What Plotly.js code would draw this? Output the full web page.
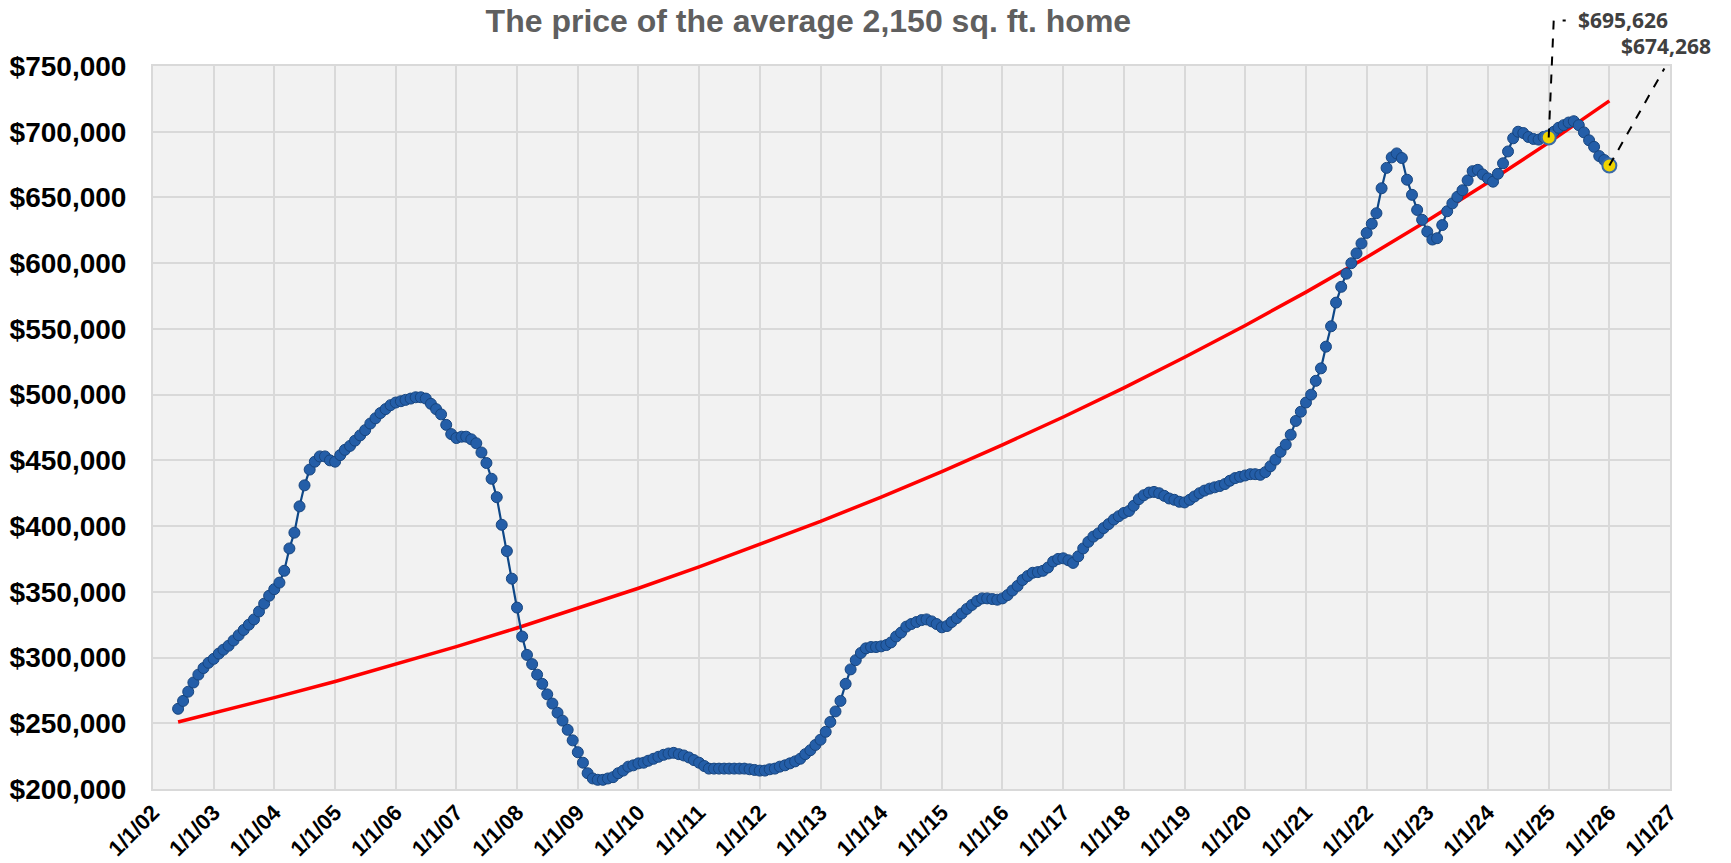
<!DOCTYPE html>
<html>
<head>
<meta charset="utf-8">
<script src="https://cdn.plot.ly/plotly-3.0.1.min.js"></script>
<style>
  html, body { margin: 0; padding: 0; background: #ffffff; }
  #chart { width: 1731px; height: 863px; }
</style>
</head>
<body>
<div id="chart"></div>
<script>
// ---------------- DATA ----------------
const chartTitle = 'The price of the average 2,150 sq. ft. home';

// Monthly price of the average 2,150 sq. ft. home (first month: June 2002)
const seriesStartYear = 2002;
const seriesStartMonth = 6;
const price2002 = [261000, 267000, 274000, 281000, 287000, 292000, 296000];
const price2003 = [299000, 303000, 306000, 309000, 313000, 317000, 321000, 325000, 329000, 335000, 341000, 347000];
const price2004 = [352000, 357000, 366000, 383000, 395000, 415000, 431000, 443000, 449000, 453000, 453000, 450000];
const price2005 = [449000, 454000, 458000, 461000, 465000, 469000, 473000, 478000, 482000, 486000, 489000, 492000];
const price2006 = [494000, 495000, 496000, 497000, 498000, 498000, 497000, 493000, 489000, 485000, 477000, 470000];
const price2007 = [467000, 468000, 468000, 466000, 463000, 456000, 448000, 436000, 422000, 401000, 381000, 360000];
const price2008 = [338000, 316000, 302000, 295000, 287000, 280000, 272000, 265000, 258000, 252000, 245000, 237000];
const price2009 = [228000, 220000, 212000, 208000, 207000, 207000, 208000, 209000, 212000, 214000, 217000, 218000];
const price2010 = [219500, 220000, 221500, 223000, 224500, 226000, 227000, 227500, 226500, 225500, 224000, 222000];
const price2011 = [220000, 217500, 215500, 215500, 215500, 215500, 215500, 215500, 215500, 215500, 215000, 214500];
const price2012 = [214000, 214000, 215000, 215500, 217000, 218000, 219500, 221000, 223000, 226500, 229500, 233500];
const price2013 = [237500, 243500, 251000, 259000, 267000, 280000, 291000, 298000, 303500, 307000, 308000, 308000];
const price2014 = [308500, 309500, 311500, 316000, 319000, 323500, 325500, 327000, 328500, 329000, 327500, 325500];
const price2015 = [323000, 324000, 327000, 330000, 333500, 337000, 340000, 343000, 345000, 345000, 344500, 344000];
const price2016 = [345000, 347500, 351000, 354500, 359000, 362000, 364500, 365000, 366000, 368500, 373000, 375000];
const price2017 = [375500, 374000, 372000, 377000, 383000, 388000, 392000, 394500, 398500, 401500, 405000, 407500];
const price2018 = [410000, 411500, 415500, 420500, 423500, 425500, 426000, 425000, 423000, 421000, 420000, 418500];
const price2019 = [418000, 420000, 422500, 425000, 427000, 428500, 429500, 430500, 432000, 434500, 436500, 437500];
const price2020 = [438500, 439500, 439500, 439000, 441000, 445500, 450500, 456500, 462000, 469500, 480000, 487000];
const price2021 = [494000, 500000, 510500, 520000, 536500, 552000, 570000, 582000, 592000, 600000, 607500, 615000];
const price2022 = [623000, 630000, 638000, 657000, 672500, 680500, 683500, 680000, 663500, 652000, 640500, 633000];
const price2023 = [624000, 618000, 619000, 629000, 639500, 645500, 650500, 655500, 663000, 670000, 671000, 667500];
const price2024 = [664500, 662000, 668000, 676000, 685000, 695000, 700000, 699000, 696000, 694500, 694000, 696000];
const price2025 = [695626, 700000, 703000, 705000, 707000, 708000, 705000, 699500, 693500, 688500, 681500, 678500];
const price2026 = [674268];

// Red trend line, read at its start and at each January
const trendDates = ['2002-06-01', '2003-01-01', '2004-01-01', '2005-01-01', '2006-01-01', '2007-01-01',
  '2008-01-01', '2009-01-01', '2010-01-01', '2011-01-01', '2012-01-01', '2013-01-01', '2014-01-01',
  '2015-01-01', '2016-01-01', '2017-01-01', '2018-01-01', '2019-01-01', '2020-01-01', '2021-01-01',
  '2022-01-01', '2023-01-01', '2024-01-01', '2025-01-01', '2026-01-01'];
const trendValues = [251000, 257700, 269500, 281800, 294800, 308300, 322500, 337300, 352700, 368900,
  385900, 403600, 422100, 441500, 461800, 483000, 505200, 528400, 552600, 578000, 604500, 632300,
  661300, 691700, 723500];

// Highlighted (labelled) points
const highlightDates = ['2025-01-01', '2026-01-01'];
const highlightValues = [695626, 674268];
const highlightLabels = ['$695,626', '$674,268'];

// Axis ticks
const xTickDates = ['2002-01-01', '2003-01-01', '2004-01-01', '2005-01-01', '2006-01-01', '2007-01-01',
  '2008-01-01', '2009-01-01', '2010-01-01', '2011-01-01', '2012-01-01', '2013-01-01', '2014-01-01',
  '2015-01-01', '2016-01-01', '2017-01-01', '2018-01-01', '2019-01-01', '2020-01-01', '2021-01-01',
  '2022-01-01', '2023-01-01', '2024-01-01', '2025-01-01', '2026-01-01', '2027-01-01'];
const xTickLabels = ['1/1/02', '1/1/03', '1/1/04', '1/1/05', '1/1/06', '1/1/07', '1/1/08', '1/1/09',
  '1/1/10', '1/1/11', '1/1/12', '1/1/13', '1/1/14', '1/1/15', '1/1/16', '1/1/17', '1/1/18', '1/1/19',
  '1/1/20', '1/1/21', '1/1/22', '1/1/23', '1/1/24', '1/1/25', '1/1/26', '1/1/27'];
const yRange = [200000, 750000];
const yStep = 50000;

// ---------------- BUILD ----------------
const prices = [].concat(price2002, price2003, price2004, price2005, price2006, price2007, price2008,
  price2009, price2010, price2011, price2012, price2013, price2014, price2015, price2016, price2017,
  price2018, price2019, price2020, price2021, price2022, price2023, price2024, price2025, price2026);

const priceDates = prices.map((_, i) => {
  const mm = seriesStartMonth - 1 + i;
  const y = seriesStartYear + Math.floor(mm / 12);
  const mo = (mm % 12) + 1;
  return y + '-' + String(mo).padStart(2, '0') + '-01';
});

const boldFont = 'Liberation Sans, Arial, Helvetica, sans-serif';

const traces = [
  {
    x: trendDates, y: trendValues, type: 'scatter', mode: 'lines',
    line: { color: '#ff0000', width: 3.5 },
    hoverinfo: 'skip'
  },
  {
    x: priceDates, y: prices, type: 'scatter', mode: 'lines+markers',
    line: { color: '#0e4787', width: 2.2 },
    marker: { size: 11, color: '#245ea8', line: { color: '#17457f', width: 1 } }
  },
  {
    x: highlightDates, y: highlightValues, type: 'scatter', mode: 'markers',
    marker: { size: 14, color: '#f0d400', line: { color: '#3a6aa6', width: 2 } },
    cliponaxis: false
  }
];

// dashed leader lines from highlighted points to labels (pixel offsets relative to the points)
const leaderPaths = ['M0,0 L5,117 L17,117', 'M0,0 L55,97'];
const labelShift = [{ x: 27, y: 117 }, { x: 10, y: 120 }];

const shapes = highlightDates.map((d, i) => ({
  type: 'path', layer: 'above',
  xref: 'x', yref: 'paper',
  xsizemode: 'pixel', ysizemode: 'pixel',
  xanchor: d,
  yanchor: (highlightValues[i] - yRange[0]) / (yRange[1] - yRange[0]),
  path: leaderPaths[i],
  line: { color: '#000000', width: 2, dash: 'dash' }
}));

const annotations = highlightDates.map((d, i) => ({
  x: d, y: highlightValues[i], xref: 'x', yref: 'y',
  text: highlightLabels[i], showarrow: false,
  xanchor: 'left', yanchor: 'middle',
  xshift: labelShift[i].x, yshift: labelShift[i].y,
  font: { family: 'Noto Sans, Open Sans, sans-serif', size: 21, color: '#404040', weight: 700 }
}));

const layout = {
  width: 1731, height: 863,
  margin: { l: 153, r: 61, t: 66, b: 74, pad: 0 },
  paper_bgcolor: '#ffffff',
  plot_bgcolor: '#f2f2f2',
  showlegend: false,
  title: {
    text: chartTitle,
    x: 0.467, xref: 'container', xanchor: 'center',
    y: 0.9757, yref: 'container', yanchor: 'middle',
    font: { family: boldFont, size: 32, color: '#5f5f5f', weight: 700 }
  },
  xaxis: {
    type: 'date',
    range: [xTickDates[0], xTickDates[xTickDates.length - 1]],
    tickmode: 'array', tickvals: xTickDates, ticktext: xTickLabels,
    tickangle: -45,
    tickfont: { family: boldFont, size: 22, color: '#000000', weight: 700 },
    showgrid: true, gridcolor: '#d9d9d9', gridwidth: 2,
    showline: true, linecolor: '#d9d9d9', linewidth: 2, mirror: true,
    zeroline: false, ticks: '', fixedrange: true
  },
  yaxis: {
    range: yRange, dtick: yStep, tick0: yRange[0],
    tickformat: '$,.0f',
    tickfont: { family: boldFont, size: 28, color: '#000000', weight: 700 },
    ticklabelstandoff: 19,
    showgrid: true, gridcolor: '#d9d9d9', gridwidth: 2,
    showline: true, linecolor: '#d9d9d9', linewidth: 2, mirror: true,
    zeroline: false, ticks: '', fixedrange: true
  },
  shapes: shapes,
  annotations: annotations
};

Plotly.newPlot('chart', traces, layout, { displayModeBar: false, staticPlot: true });
</script>
</body>
</html>
